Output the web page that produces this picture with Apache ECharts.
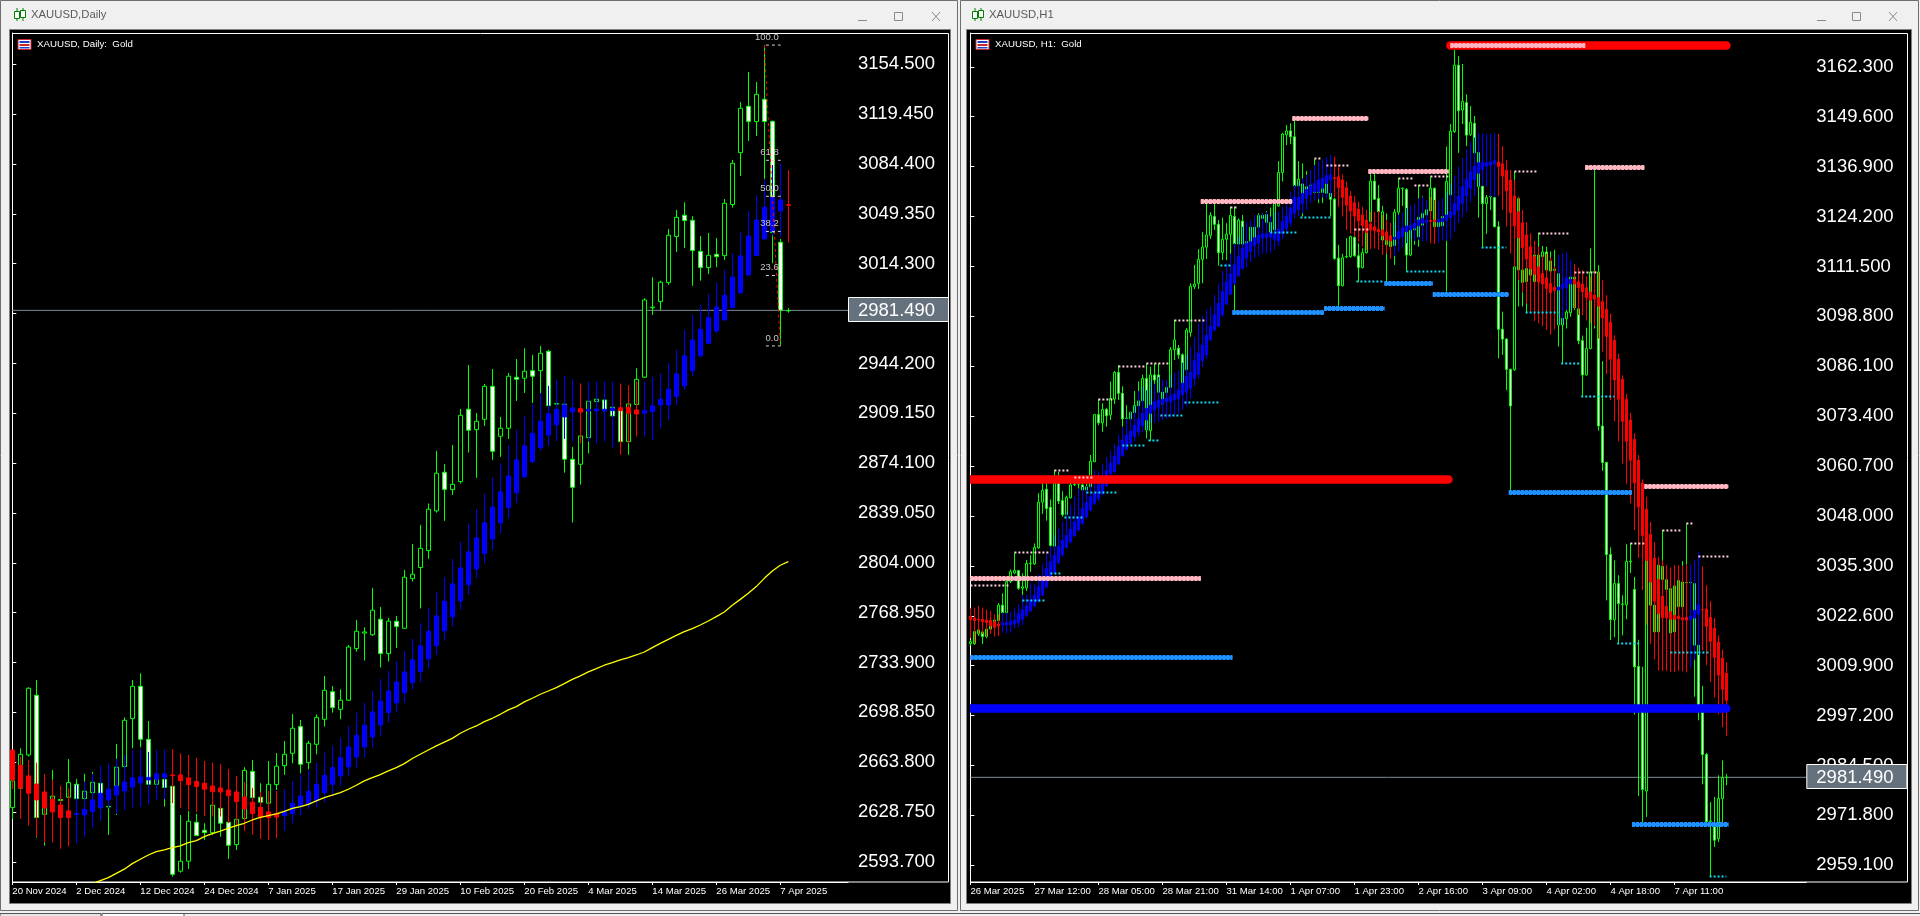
<!DOCTYPE html>
<html><head><meta charset="utf-8">
<style>html,body{margin:0;padding:0;background:#f0f0f0;overflow:hidden}#c{width:1920px;height:916px}</style>
<script src="https://cdn.jsdelivr.net/npm/echarts@6/dist/echarts.min.js"></script>
</head><body><div id="c"></div>
<script>
// ---------- Daily chart data: [open, high, low, close]
const dailyCandles=[[2631.9,2654,2623.7,2650.7],[2645.5,2673.6,2643,2669.4],[2668.9,2716.5,2667.8,2715.8],[2710.9,2721.6,2610.8,2624.9],[2627.2,2645,2605.2,2631.9],[2634,2658.4,2625,2640],[2637.6,2640,2620,2636.9],[2639.2,2666.1,2630,2649.5],[2648.3,2652.1,2625,2638.2],[2638.2,2655.6,2632.6,2643.4],
[2642.4,2657,2637.3,2649.7],[2649,2650.2,2631.4,2631.9],[2632.4,2635,2612.7,2632.8],[2647.1,2676.7,2626.7,2660.3],[2660.7,2695.4,2657.2,2693.3],[2694.5,2721.6,2673.6,2717.2],[2717.2,2726.3,2674.3,2679.9],[2679.9,2692.8,2647.8,2648.3],[2648.3,2652.5,2647.8,2651.8],[2651.8,2652.3,2632.6,2646],
[2646.9,2647.8,2583.4,2585],[2587.2,2626.7,2586.2,2594.2],[2594.2,2629.6,2588.8,2622.3],[2621.6,2627.5,2612.2,2612.2],[2616,2620.9,2609.2,2614.3],[2614.3,2635,2612.7,2633.6],[2631.4,2632.6,2611.5,2620.9],[2621.6,2623.2,2595.8,2605.4],[2605.9,2623.7,2602.1,2623.7],[2624.2,2660.3,2623.7,2658.1],
[2657.4,2665.4,2638.2,2638.9],[2639.2,2649,2635,2635.7],[2635,2664.7,2632.6,2648.3],[2648.1,2670.3,2644.3,2661],[2661.4,2678.8,2654.9,2669.4],[2670.1,2697.7,2663,2687.7],[2689,2693.5,2656,2662.4],[2663.5,2678.8,2658.8,2677.1],[2676.4,2697.5,2669.4,2695.2],[2694,2724.5,2688.9,2714.4],
[2713.4,2717.4,2698.7,2702.2],[2701,2715,2694,2707.4],[2707.4,2746.3,2707,2744.8],[2743.7,2763.9,2741.6,2755.9],[2754.6,2758.7,2735.3,2755.4],[2753.4,2786.4,2752.6,2770.7],[2764.4,2773,2730.4,2740.2],[2740.2,2765.3,2734.6,2763],[2762.9,2766.7,2744.2,2759.2],[2758,2799,2757.8,2793.9],
[2792.9,2817.3,2790.8,2796],[2800.7,2830.7,2771.9,2814.2],[2812.6,2845.7,2806.8,2841.7],[2840.5,2882.7,2839.3,2867],[2867.7,2873.5,2833.5,2855.5],[2855.5,2886.9,2851.7,2859.2],[2861.1,2912.2,2859.7,2907.7],[2912,2943.1,2881.5,2897.2],[2897.7,2909.4,2863.7,2903.5],[2904.9,2929.8,2900.2,2928.1],
[2928.1,2940.3,2876.4,2882.4],[2893,2906.6,2878.5,2898.6],[2898.6,2937.5,2891.1,2935.2],[2934.5,2947.3,2917.8,2933],[2933.8,2954.8,2923.4,2938.7],[2939.1,2950.2,2916.4,2935.2],[2939.1,2956.5,2923.2,2951.3],[2952.7,2953.7,2914.5,2914.5],[2915.6,2917.5,2913.8,2916.1],[2915.5,2916.2,2867.4,2876.8],
[2876.8,2885.5,2832.3,2857.1],[2873.3,2897,2859,2893.2],[2892,2917.6,2881,2917.6],[2917.4,2920,2906,2919],[2918.5,2919,2909,2911],[2913.4,2914,2904,2907.3],[2911.9,2912.5,2889,2889.2],[2889.2,2915.7,2880,2915.7],[2915.3,2940.8,2912.7,2933],[2934.5,2990,2934,2988.8],
[2983.3,3004.8,2978.3,2983.7],[2987.7,3002.4,2981.8,3001.3],[3001,3038.8,2999.4,3034.3],[3033.4,3052.1,3022.6,3046.9],[3048.4,3057.5,3025.4,3044.6],[3044.8,3047.7,2998.7,3023.5],[3023,3033.8,3002.4,3011.6],[3011.6,3035.9,3007,3020.2],[3020.9,3032.4,3011.8,3019.3],[3020,3059.8,3017,3056.8],
[3055.9,3087.3,3053.7,3084.9],[3092.4,3128,3076,3123.6],[3125,3149.1,3100.6,3114.2],[3114.2,3142.1,3104.1,3133.4],[3129.9,3168,3073.7,3114.2],[3114.4,3114.8,3014.6,3036.2],[3029.4,3031.7,2956.5,2981.6],[2981.4,2983,2979.9,2981.2]];
// Heiken Ashi overlay: [open, high, low, close]
const dailyHeikin=[[2672.4,2672.4,2645,2651.4],[2661.7,2667.8,2623.9,2645.7],[2654.2,2665.4,2619.2,2642],[2648.5,2663.5,2611.5,2637.3],[2642.9,2655.6,2607.3,2631.7],[2637.8,2651.4,2607.3,2628.9],[2633.8,2647.4,2602.9,2624.9],[2629.6,2645.5,2604.5,2624.9],[2627.1,2647.8,2606.6,2627.8],[2626.7,2650.2,2611.5,2630.7],
[2629.1,2655.6,2617.8,2637.3],[2631.9,2661.2,2622.5,2642],[2637.3,2663,2631.4,2644.8],[2640.8,2666.1,2627.5,2647.1],[2643.6,2668.9,2630.3,2649.9],[2646.4,2672.4,2631.9,2652.8],[2649.2,2672.9,2632.4,2653.5],[2651.4,2671,2634.5,2653.2],[2651.8,2672.4,2637.3,2655.6],[2653.2,2672.4,2637.8,2655.6],
[2654.9,2673.1,2635,2654.4],[2654.9,2670.1,2631.7,2650.9],[2652.8,2668.9,2630.3,2648.1],[2650.4,2667,2628.6,2646.7],[2649,2664.7,2626,2644.8],[2647.1,2663.5,2625.6,2643.1],[2645.7,2662.6,2625.6,2642.9],[2644.3,2659.1,2620.9,2640.3],[2642.9,2654.2,2617.8,2636.1],[2639.4,2649.9,2615.5,2631],
[2635.7,2645.9,2612.7,2627.7],[2632.1,2642.7,2609.9,2625.3],[2628.9,2643.6,2609.2,2624.9],[2627.7,2643.6,2610.3,2625.3],[2626.3,2644.8,2615.5,2629.1],[2627.7,2650.6,2620.9,2634.9],[2632.6,2654.9,2626.3,2640.1],[2634.5,2658.4,2630.7,2643.4],[2636.6,2663.5,2631.9,2648.3],[2642.5,2670.6,2635.4,2654.6],
[2648.3,2675.3,2640.1,2660],[2654.2,2681.1,2647.1,2667],[2660.5,2689.3,2654.2,2674.6],[2667.5,2698.7,2660,2682.8],[2674.6,2705.7,2667,2689.8],[2681.6,2713.9,2674.1,2699.2],[2690,2722.1,2682.3,2706.7],[2698.7,2728,2691.7,2713.9],[2705.5,2734.8,2698.7,2720.2],[2712.7,2741.9,2705.7,2727.3],
[2719.8,2750.5,2715,2735.8],[2727.6,2761.5,2720,2745.6],[2736.5,2772.3,2729.9,2755.9],[2745.8,2783.6,2739.3,2766.7],[2756.2,2793.9,2749.8,2777],[2766,2806.8,2759.2,2789.2],[2777.2,2818.7,2770.9,2800.4],[2788.5,2831.4,2781.5,2811.7],[2799.7,2841.9,2793.2,2821.5],[2810.5,2852.7,2803.7,2832.1],
[2820.8,2864.2,2813.1,2843.1],[2832.1,2874,2824.8,2853.9],[2842.8,2886.9,2835.3,2865.1],[2853.2,2897.4,2845.9,2876.4],[2864.4,2907.3,2863.9,2886.2],[2875.2,2915.7,2874,2895.1],[2885,2923.2,2882.7,2903.5],[2893.9,2928.4,2886.2,2908.7],[2901,2932.6,2889.7,2912],[2906.6,2935.4,2891.1,2915],
[2910.1,2933,2889.2,2912.9],[2912.4,2930.2,2888,2910],[2910.8,2931.4,2889.3,2911.9],[2910.8,2931.4,2888,2912.2],[2910.8,2931.4,2889.3,2912],[2911,2931.4,2885,2912.8],[2913,2930,2879.9,2911],[2913.4,2929,2888,2909.2],[2911.5,2931.4,2892.8,2908.7],[2909.2,2931.4,2892.8,2911],
[2910.3,2934.9,2890.4,2914.3],[2915,2937.3,2898.6,2919],[2915,2944.3,2904.5,2926],[2920.9,2953.7,2915,2936.8],[2928.4,2967.7,2925.6,2949.5],[2939.2,2978.3,2935,2960.7],[2949.5,2985.3,2948.5,2968.2],[2958.4,2993,2957.7,2976.4],[2967,3000.8,2965.4,2983.9],[2974.8,3009.9,2974.1,2992.1],
[2983.5,3021.6,2983,3004.8],[2993.8,3036.6,2993.5,3019.8],[3006.4,3051.2,3006.4,3033.8],[3020,3062.4,3019.8,3045.1],[3031.7,3073.7,3031.5,3054],[3036.9,3083.7,3034,3061],[3051.4,3084.9,3033.4,3059.1],[3055.8,3080.2,3029.1,3055.4]];
// Yellow moving average, one value per bar from bar index 10 on
const dailyMaFirstBar=10;
const dailyMA=[2578.5,2580.6,2582.7,2585.7,2588.6,2592.5,2595.6,2598.6,2601,2602.2,2603.8,2605,2607.3,2608.7,2611.5,2613.6,2615.3,2617.4,2619.2,2620.9,2623.2,2625.1,2626.3,2627.5,2629.3,2631.4,2632.6,2634.2,2636.6,2638.9,2640.6,2642.5,2644.8,2647.6,2650.7,2653,2655.1,2657.7,2660,2662.8,2666.4,2669.4,2672.4,2675.3,2678,2680.6,2684.2,2687,2689.3,2692.4,2694.7,2697.5,2700.6,2702.9,2706.2,2708.8,2711.6,2713.9,2716.3,2719.1,2722.1,2724.5,2727.3,2729.6,2732,2733.8,2735.7,2737.4,2739.2,2741.3,2744.4,2747.4,2750.2,2753,2755.6,2757.7,2760.3,2763.1,2766.2,2769.4,2774.1,2778.3,2782.6,2787.3,2793.1,2798.3,2802.3,2804.8];
const dailyTickBars=[0,8,16,24,32,40,48,56,64,72,80,88,96];
const dailyTickLabels=['20 Nov 2024','2 Dec 2024','12 Dec 2024','24 Dec 2024','7 Jan 2025','17 Jan 2025','29 Jan 2025','10 Feb 2025','20 Feb 2025','4 Mar 2025','14 Mar 2025','26 Mar 2025','7 Apr 2025'];
const dailyPriceTicks=[3154.5,3119.45,3084.4,3049.35,3014.3,2979.25,2944.2,2909.15,2874.1,2839.05,2804,2768.95,2733.9,2698.85,2663.8,2628.75,2593.7];
const fibLevels=[['100.0',3168],['61.8',3087],['50.0',3061.7],['38.2',3037],['23.6',3006],['0.0',2956.5]];
const fibDiagonal=[[94,3168],[96,2956.5]];
const lastPrice=2981.49;

// ---------- H1 chart data
const h1Candles=[[3015.5,3016.5,3015,3016],[3015.5,3019,3015.2,3018.6],[3018,3019.2,3017.5,3019],[3018.5,3019.4,3015.4,3017.3],[3017.3,3021.5,3016.9,3019.2],[3019.2,3021.5,3019.2,3020.2],[3019.8,3022.4,3019.7,3021.5],[3021.4,3025.8,3021.1,3025.3],[3025.3,3028.3,3023.2,3023.4],[3023.4,3031.5,3023.2,3031.3],
[3031.3,3034.4,3030.9,3033.8],[3033.5,3038.6,3033.2,3034.1],[3034.1,3034.2,3029.2,3029.6],[3029.6,3033.4,3026.6,3030],[3029.7,3036.8,3028.9,3035.9],[3035.9,3038,3033.8,3036],[3035.8,3041,3035.5,3040],[3039.9,3053.8,3039.6,3051.5],[3051.5,3058,3048.5,3054.5],[3054.8,3058,3046.8,3049.9],
[3050.2,3052.2,3040.2,3040.5],[3040.3,3059.7,3040.2,3056.3],[3056.3,3059.2,3051,3051.8],[3051.9,3054.3,3047.8,3048.3],[3048.3,3053.2,3048,3052.7],[3052.6,3058,3052.5,3055.9],[3056,3058,3055.6,3056.1],[3056.1,3058,3054.8,3056.2],[3055.9,3056.3,3054.2,3054.6],[3054.6,3056.3,3054,3055.4],
[3055.4,3063.5,3055,3061.9],[3061.8,3073.9,3061.7,3073.8],[3073.8,3077.8,3071.1,3071.7],[3071.7,3076.7,3069.4,3075.1],[3075.1,3075.5,3070.7,3073.5],[3073.7,3082.2,3072.4,3077.9],[3077.7,3084.9,3076.5,3084.5],[3084.5,3086.4,3077.5,3079.2],[3079.2,3081,3070.7,3072.7],[3072.8,3076.2,3072,3072.9],
[3072.7,3074.5,3069.9,3074.4],[3074.3,3079.8,3070.7,3076.1],[3076,3082.2,3075.6,3077.3],[3077.3,3084,3072.4,3083],[3083,3086.8,3067.7,3069.9],[3069.7,3086,3067.1,3083.9],[3083.9,3086.8,3081.3,3082.6],[3083.9,3086.8,3072.4,3079.5],[3079.5,3080.9,3075,3076.5],[3079.4,3082.6,3075.8,3080.7],
[3080.7,3091,3080,3090.3],[3090.3,3097.9,3087.7,3092.8],[3090.7,3091.5,3088,3089],[3089,3089.4,3080.1,3081],[3085.2,3095.8,3080.1,3095.3],[3094.7,3107.2,3093.6,3106.4],[3106.4,3111.9,3105.7,3107],[3107.2,3115.9,3105.8,3113.3],[3113.3,3120.3,3107.2,3116.4],[3116.4,3127.6,3113.4,3119.5],
[3119.4,3125.3,3118.5,3124.5],[3124.2,3127.6,3120.8,3122.2],[3122.2,3123.3,3111.7,3115],[3115,3123.9,3113.1,3118.4],[3118.4,3122.5,3113.1,3119.7],[3119.7,3126.7,3111.9,3124.5],[3124.2,3126.7,3100.4,3117.2],[3117.2,3123.7,3113.1,3123.3],[3123,3124.6,3116.5,3117.2],[3117.2,3120.8,3117,3117.8],
[3117.5,3122,3116,3121.5],[3118.7,3122,3118.2,3121.5],[3121.5,3125,3118.7,3124.5],[3124.5,3125,3123.3,3123.7],[3122.7,3125.6,3122.5,3124.7],[3122.7,3126.5,3119.8,3120.2],[3120.8,3128,3120.1,3127.6],[3126.9,3138.3,3126.7,3135.4],[3135.4,3145.5,3133.1,3145.2],[3145,3147.5,3142.4,3146],
[3146,3147.9,3142.6,3144.5],[3144.5,3148.6,3129.7,3132],[3132,3138.3,3128.8,3133.7],[3132.5,3137.7,3124.2,3130],[3130,3135.8,3129.2,3131.8],[3130.1,3134.8,3129.2,3132.2],[3130.3,3138.8,3130.1,3132.2],[3130.3,3135.2,3127.6,3131.4],[3130.3,3132.2,3127.6,3132.2],[3130.1,3135.2,3129.7,3133.5],
[3130.1,3133.5,3124.2,3128.6],[3128.6,3129,3113.2,3113.5],[3113.6,3117,3101.3,3106.6],[3106.6,3114.7,3106.4,3113.7],[3113.9,3118.7,3113.6,3114],[3114,3119.3,3113.7,3119.1],[3118.9,3121.6,3114,3114.2],[3114.2,3117.4,3107.6,3111.2],[3111.2,3116.1,3111,3115],[3115,3125.9,3114.8,3120.6],
[3122.9,3135.2,3121.2,3133.2],[3133.2,3135.2,3128.4,3128.6],[3128.8,3132.2,3125,3125.4],[3118.2,3126.9,3114.8,3125.4],[3117,3125,3107.2,3118.2],[3116.5,3120,3114,3118.2],[3116.8,3126.1,3111.9,3125.3],[3125.3,3133.9,3124.6,3131.4],[3131.3,3131.6,3126.9,3131.4],[3131.1,3131.4,3110.2,3114.4],
[3114.4,3126.7,3114.1,3120.8],[3120.8,3123,3117,3121.5],[3119,3132.2,3116.5,3124],[3122,3129.4,3122,3125],[3124.6,3128,3123,3125.9],[3125.6,3134.3,3125.4,3131.4],[3131.4,3131.5,3121.5,3121.6],[3121.6,3123.5,3121.4,3123.3],[3121.8,3124.4,3121.6,3124.2],[3123.3,3142,3105.1,3133.1],
[3129.7,3147.7,3129.6,3145.9],[3145.8,3166.6,3145.5,3162.7],[3162.7,3165,3140.4,3151.1],[3151.3,3163,3147.7,3153.5],[3153.2,3155.3,3142.1,3144.9],[3145.1,3152.3,3144.7,3148.2],[3147.9,3149.8,3140.3,3140.4],[3131.8,3144.3,3123.9,3140.5],[3131.9,3137.9,3116.5,3127.5],[3127.5,3129.7,3119.8,3129],
[3129.2,3131.8,3125.9,3129.3],[3129,3129.7,3121.5,3121.6],[3121.6,3123,3088.1,3095.5],[3095.5,3100,3089,3093],[3093,3093.2,3080,3085.3],[3085.3,3085.5,3054.3,3076],[3085.2,3135.6,3084.9,3111.4],[3110.6,3129.2,3101.3,3128.8],[3107.4,3118,3101.3,3110.6],[3107.6,3114.8,3099.6,3111],
[3110.8,3112,3106,3109.3],[3107.6,3116,3106,3114.4],[3114.4,3120,3106,3107.6],[3114,3116.7,3113,3115.2],[3115.2,3116.5,3110.2,3110.6],[3110.3,3115.3,3110.1,3112.9],[3110.5,3115.7,3109.5,3110.8],[3096.6,3111,3091.1,3109.7],[3096.6,3098.6,3086.8,3098.3],[3098.2,3100.4,3095.7,3099.9],
[3099.7,3109.3,3098.7,3108.8],[3108.8,3110.1,3100.4,3101],[3100.7,3101.2,3091.7,3092.6],[3092.6,3093.9,3078.5,3083.9],[3083.9,3095.9,3083.7,3090.6],[3090.6,3116.1,3090.4,3110.1],[3109.9,3136,3095.7,3110.2],[3110.1,3111.8,3069.7,3070.9],[3070.9,3087.4,3059.5,3061.6],[3061.6,3061.8,3026.5,3038.2],
[3038.2,3040,3016.4,3021.6],[3021.6,3036.7,3017.2,3030.8],[3030.8,3032.9,3015.7,3025.7],[3025.5,3027.8,3017.6,3025.6],[3025.4,3040.8,3021.7,3036.4],[3036.3,3041.1,3033.5,3036.5],[3029.3,3032.5,2997.5,3009.6],[3009.7,3016.5,2976.7,2998.1],[2998.1,3009.6,2969.7,2978.4],[2978,3037,2971.4,3036.7],
[3031.2,3035.5,3023,3025.3],[3025.3,3026,3018,3018.5],[3018.5,3036,3018,3035.5],[3031.8,3044.4,3030,3035.2],[3029.3,3033,3029,3031.8],[3018.2,3030,3018,3029.5],[3030.2,3035.5,3018,3018.5],[3024.9,3033,3024,3031.6],[3031.2,3036.5,3024,3024.9],[3031,3046,3030,3031.1],
[3031.1,3031.5,3030.5,3031],[3015.1,3031,3002,3030.8],[3015.1,3015.4,2996,2998.7],[2998.1,3004.7,2979.7,2987.3],[2987.3,2987.7,2969.7,2970.2],[2970.2,2975.2,2956.3,2970.4],[2968.9,2976.5,2963.8,2965.5],[2965.9,2982,2965,2976.1],[2976.1,2985.8,2968.9,2981.4],[2981.5,2982.3,2979.5,2981.49]];
const h1Heikin=[[3022.4,3024.5,3016.9,3021.7],[3022,3024.7,3015.6,3021.4],[3021.7,3025.1,3018.1,3021.5],[3021.7,3024.7,3018,3021.1],[3021.5,3024.2,3017.3,3020.9],[3021.5,3023.8,3018,3020],[3021.1,3023,3017.3,3019.7],[3020.5,3023,3017.5,3020],[3020.3,3023.4,3018.3,3020.7],[3020.3,3023.4,3018.1,3020.8],
[3020.3,3023.6,3018.3,3021.1],[3020.5,3024.5,3019.4,3021.5],[3020.8,3025.6,3019.7,3023.2],[3021.7,3027.9,3020.3,3024.1],[3022.7,3027.9,3022.2,3025.1],[3023.8,3030.9,3023.6,3026.6],[3025.1,3030.7,3024.7,3027.9],[3026.2,3033.1,3026,3030],[3027.9,3035.9,3027.5,3032.1],[3029.9,3038.5,3029.6,3034.6],
[3032.1,3040.2,3031.7,3036.4],[3033.6,3043.1,3033.4,3038],[3036.1,3044.8,3035.7,3040.3],[3038.1,3046.5,3037.6,3041.9],[3039.9,3049.1,3039.8,3043.1],[3041.4,3050.8,3041,3044.7],[3042.9,3052.9,3042.7,3046.5],[3044.4,3055,3044,3047.8],[3046.1,3055.4,3045.7,3049.9],[3047.8,3055.6,3047.4,3051.4],
[3049.5,3057.1,3049.1,3052.9],[3051.2,3059.7,3050.8,3053.7],[3052.5,3059,3051.6,3055.9],[3053.6,3061.2,3053.3,3056.3],[3055.6,3063,3055.4,3059.5],[3058.8,3064.6,3058.4,3061.4],[3059.3,3066.3,3058.8,3063.2],[3061.2,3068.6,3061,3065.6],[3063.3,3070.7,3063.1,3067.3],[3064.9,3072.8,3064.8,3068.6],
[3066.5,3074.5,3066,3069.6],[3068.2,3076,3066.9,3071.1],[3069.4,3079.8,3068.3,3072.7],[3070.9,3080.9,3069.3,3074.1],[3072.4,3080,3069.9,3075.4],[3074.1,3082.6,3071.6,3076.2],[3074.9,3081.6,3071.7,3077.1],[3075.6,3083.4,3072,3077.5],[3076.5,3082.6,3072.4,3077.7],[3077,3082.6,3072.8,3078],
[3077,3084,3073,3078.5],[3077.5,3084.5,3073.5,3079],[3077.8,3085,3074,3080],[3078.8,3087,3075,3081.8],[3079.5,3089,3076,3083.5],[3080.5,3091,3078,3084.5],[3083,3093.5,3081,3087.5],[3084,3097,3083,3089.5],[3087.5,3099,3086,3091.5],[3089,3100.5,3088,3094],
[3092.8,3101.3,3092.6,3096.3],[3095.3,3104.2,3094.9,3099.2],[3096.3,3107.2,3096.2,3102.1],[3099.2,3110.3,3098.7,3105.1],[3101.9,3112.3,3101.7,3107.6],[3104.4,3114.7,3104.2,3109.6],[3107.2,3117.4,3106.8,3111.9],[3109.1,3119.1,3108.9,3114],[3111,3121.6,3110.6,3116.1],[3113.6,3122.9,3111.3,3117.4],
[3115.3,3123.3,3112.7,3117.8],[3116.7,3124.6,3113.6,3118.8],[3117.4,3124.6,3114,3119.5],[3118.7,3125,3114.8,3119.8],[3118.9,3125.3,3114.8,3119.8],[3118.9,3124.2,3115,3120.1],[3118.4,3125.4,3115.7,3119.9],[3118,3125.4,3116.7,3121],[3119.8,3126.7,3118.4,3122.9],[3121.2,3127.3,3119.8,3124.3],
[3122.6,3130.5,3121.6,3126.3],[3125,3132.2,3123.7,3129.1],[3125.9,3133,3124.3,3129.1],[3127.4,3133.9,3125,3130.1],[3128.8,3134.8,3125.9,3131.1],[3129.7,3136,3127.6,3132],[3130.5,3137.3,3128.2,3132.6],[3130.5,3138.2,3128.6,3133.5],[3131.4,3138.8,3129.1,3133.9],[3132.6,3139.3,3128.8,3134.6],
[3133.5,3139.9,3129.1,3134.8],[3134.1,3139.4,3129.1,3133.9],[3134.3,3137.3,3126.7,3131.6],[3133.5,3134.9,3124.2,3129.1],[3131.5,3133.1,3120.8,3127.1],[3129.4,3130.7,3119.8,3125.6],[3127.7,3129.4,3119.1,3124.3],[3126.1,3128,3117.8,3123.1],[3124.6,3126.7,3116.5,3121.9],[3123.3,3125.9,3115.7,3120.1],
[3122.3,3125.4,3115.9,3120.8],[3121.6,3125.4,3116.1,3120.6],[3121,3125.6,3115.7,3120.3],[3120.8,3124.6,3114.4,3119.3],[3120.3,3123.3,3114.8,3118.2],[3119.3,3122.6,3113.4,3118],[3118.4,3122.9,3114.1,3118.9],[3118.5,3124.6,3115.2,3120.3],[3119.1,3125.4,3116.5,3121.3],[3120.3,3126.4,3117.4,3121.8],
[3120.8,3126.7,3118.5,3121.9],[3121.2,3127.5,3118,3122.5],[3121.8,3128.8,3118.3,3123.3],[3122.5,3129.2,3117.8,3123.7],[3122.7,3128.4,3118,3123.3],[3123.2,3129.2,3117.4,3123],[3123.3,3128.4,3117.2,3122.9],[3122.8,3128.1,3117.4,3123.3],[3122.9,3128.8,3118.2,3123.7],[3123.3,3130.5,3118,3124.6],
[3123.9,3132.6,3118.5,3125.4],[3124.6,3134.5,3120.3,3127.5],[3125.8,3136.9,3122.5,3129.4],[3127.5,3139.2,3123.9,3131.8],[3129.4,3141.4,3125.4,3133.7],[3131.4,3143.2,3127.9,3135.6],[3133.5,3144.3,3129.4,3137],[3135.2,3145.4,3131.8,3137.9],[3136.2,3145.4,3132,3138.1],[3137,3145.2,3131.8,3137.9],
[3137.2,3145.2,3129.2,3138.1],[3137.6,3145.4,3129.2,3138.4],[3138.1,3145.2,3129.5,3136.9],[3137.6,3142.1,3125.9,3134.5],[3136,3138.6,3121.6,3130.7],[3133.5,3136,3114.8,3125.2],[3129.4,3133.5,3111.4,3121.8],[3125.4,3129.2,3108,3118.8],[3122.6,3125.9,3104.9,3116.3],[3119.5,3122.8,3102.1,3113.4],
[3116.5,3119.9,3100,3111],[3114,3118,3097.6,3109.5],[3111.4,3116.5,3097,3107.6],[3109.7,3114.4,3096.3,3107],[3108.6,3114.8,3095.3,3105.9],[3107.2,3113.8,3094.1,3104.8],[3106.2,3111.4,3095.5,3105.3],[3105.5,3114.4,3096.6,3106.2],[3105.8,3114.8,3097,3107],[3106.1,3115.2,3100.4,3108.6],
[3107.1,3113.2,3100.5,3108.2],[3108.2,3112.1,3100.8,3107],[3107.6,3111.2,3099.1,3106.1],[3107,3110.5,3099.1,3105],[3106.1,3109,3097.8,3103.5],[3105,3109,3097,3102.9],[3104.2,3110.5,3096.3,3103.2],[3103.6,3110.1,3093.1,3101.4],[3102.6,3108,3089.8,3098.4],[3100.6,3104.2,3084.1,3093.7],
[3097.3,3099.5,3077.5,3087.9],[3092.7,3094,3072.1,3082.6],[3087.9,3089.3,3067,3077.7],[3082.8,3083.8,3061.3,3072.1],[3077.7,3079,3056.1,3067],[3072.4,3074.2,3051.2,3062.2],[3067.5,3069,3044.4,3056.4],[3062.2,3063.5,3037.3,3050.3],[3056.4,3057.3,3029.1,3043],[3049.7,3052.9,3020.4,3036.7],
[3043.3,3046.5,3015.4,3031.2],[3037.3,3041.4,3011.5,3026.3],[3031.8,3037.6,3008.7,3023.2],[3027.6,3036.6,3008.5,3022.1],[3025,3035.5,3008.6,3022.1],[3023.6,3034.9,3008.3,3021.7],[3022.7,3035.5,3008.3,3021.7],[3022.5,3035.5,3008.6,3021.9],[3022.1,3035.3,3008.5,3021.6],[3022.2,3035.7,3008.2,3021.5],
[3021.6,3035.7,3009.4,3022.5],[3022,3036.9,3011.4,3024],[3023,3038.8,3012.6,3025.4],[3024.2,3035.2,3013.8,3024.1],[3024.3,3030.4,3010,3019.9],[3022.2,3026.3,3005.8,3016.1],[3019.4,3022,3001.8,3012],[3015.9,3017.6,2997.5,3007.5],[3011.8,3014,2994.3,3003.9],[3008,3010.8,2992,3001.1]];
const h1TickBars=[0,16,32,48,64,80,96,112,128,144,160,176];
const h1TickLabels=['26 Mar 2025','27 Mar 12:00','28 Mar 05:00','28 Mar 21:00','31 Mar 14:00','1 Apr 07:00','1 Apr 23:00','2 Apr 16:00','3 Apr 09:00','4 Apr 02:00','4 Apr 18:00','7 Apr 11:00'];
const h1PriceTicks=[3162.3,3149.6,3136.9,3124.2,3111.5,3098.8,3086.1,3073.4,3060.7,3048,3035.3,3022.6,3009.9,2997.2,2984.5,2971.8,2959.1];
// Level segments: [first bar, last bar, price]
const boldResistance=[[0,119.5,3057.3],[120,189,3167.8]];
const boldSupport=[[0,189,2999.2]];
const midResistance=[[0,57.6,3032.1],[57.6,80.5,3128.1],[80.5,99.5,3149.2],[99.5,119.6,3135.7],[120,153.7,3167.8],[153.7,168.5,3136.7],[168.5,189.5,3055.5]];
const midSupport=[[0,65.5,3012],[65.5,88.4,3099.8],[88.4,103.5,3100.9],[103.5,115.6,3107.2],[115.6,134.6,3104.4],[134.6,165.4,3054],[165.4,189.5,2969.5]];
const minorResistance=[[0,10,3030.4],[11,20,3038.8],[21,25,3059.6],[26,31,3057.9],[32,36,3077.8],[37,44,3086.2],[44,50,3087],[51,59,3097.9],[65,67,3126.7],[86,88,3139.1],[89,95,3137.3],[96,100,3120.9],[107,111,3134],[111,115,3132.2],[115,120,3134.6],[136,141.5,3135.8],[142,150,3120],[151,157,3110.1],[165,169,3041],[173,178,3044.4],[179,181,3046.2],[182,190,3037.8]];
const minorSupport=[[13,19,3026.6],[20,23,3033.4],[23.5,28.5,3047.7],[29,37,3054],[38,44,3066.1],[44.5,47.5,3067.4],[47.5,53,3073.7],[53.5,62.5,3076.9],[62.5,65,3111.9],[75,82,3120.3],[82.5,90,3124.1],[96.5,103,3107.8],[109,118.7,3110.4],[127.8,134,3116.5],[138.8,147,3099.9],[147.7,152.4,3087],[152.7,161,3078.6],[161.7,167.4,3015.7],[175,184.5,3013.3],[184.8,189,2956.4]];

// ---------- Helpers
const GREEN='#00ff00', WHITE='#ffffff', GRID_LINE='#7d8b99';
const toCandle=(rows)=>rows.map((r,i)=>[i,r[0],r[3],r[2],r[1]]);
function candleSeries(rows,idx,w,up,down,upB,downB,z){
  return {type:'candlestick',xAxisIndex:idx,yAxisIndex:idx,barWidth:w,z:z,clip:true,silent:true,
    encode:{x:0,y:[1,2,3,4]},data:toCandle(rows),large:false,progressive:0,
    itemStyle:{color:up,color0:down,borderColor:upB,borderColor0:downB,borderWidth:1}};
}
function segments(segs,idx,style,z){
  return {type:'custom',xAxisIndex:idx,yAxisIndex:idx,z:z,clip:true,silent:true,data:segs,encode:{x:[0,1],y:2},
    renderItem:(p,api)=>{const a=api.coord([api.value(0),api.value(2)]),b=api.coord([api.value(1),api.value(2)]);
      return {type:'line',shape:{x1:a[0],y1:Math.round(a[1])+.5,x2:b[0],y2:Math.round(b[1])+.5},style:Object.assign({fill:null},style)};}};
}
function priceLine(idx,xMax){
  return {type:'line',xAxisIndex:idx,yAxisIndex:idx,z:1,silent:true,showSymbol:false,data:[[0,lastPrice],[xMax,lastPrice]],lineStyle:{color:GRID_LINE,width:1}};
}
function priceTag(idx,xMax,w){
  return {type:'custom',xAxisIndex:idx,yAxisIndex:idx,z:30,clip:false,silent:true,data:[[xMax,lastPrice]],
    renderItem:(p,api)=>{const c=api.coord([xMax,lastPrice]);
      return {type:'group',children:[
        {type:'rect',shape:{x:c[0]+.5,y:Math.round(c[1])-12.5,width:w,height:24},style:{fill:'#65717d',stroke:'#ffffff',lineWidth:1}},
        {type:'text',style:{x:c[0]+10,y:c[1]+1,text:lastPrice.toFixed(3),fill:'#fff',font:'18.5px "Liberation Sans"',verticalAlign:'middle',align:'left'}}]};}};
}
function xAx(idx,max,bars,labels){
  return {type:'value',gridIndex:idx,min:0,max:max,splitLine:{show:false},
    axisLine:{show:true,onZero:false,lineStyle:{color:WHITE,width:1}},
    axisTick:{show:true,length:3,customValues:bars,lineStyle:{color:WHITE}},
    axisLabel:{customValues:bars,color:WHITE,fontFamily:'Liberation Sans',fontSize:9.6,margin:4,align:'left',hideOverlap:false,
      formatter:v=>labels[bars.indexOf(v)]||''}};
}
function yAx(idx,min,max,ticks){
  return {type:'value',gridIndex:idx,position:'right',min:min,max:max,scale:true,splitLine:{show:false},
    axisLine:{show:true,lineStyle:{color:WHITE,width:1}},
    axisTick:{show:true,length:4,customValues:ticks,lineStyle:{color:WHITE}},
    axisLabel:{customValues:ticks,color:WHITE,fontFamily:'Liberation Sans',fontSize:18.5,margin:10,padding:[2,0,0,0],hideOverlap:false,formatter:v=>v.toFixed(3)}};
}
function chrome(x,w,inX,inW,plotL,plotR,title,legend,btnX){
  const z=-10, ink='#8a8a8a', txt='#5a5a5a';
  return [
   {type:'rect',z:z,shape:{x:x+.5,y:.5,width:w,height:910},style:{fill:'#f0f0f0',stroke:'#6e6e6e',lineWidth:1}},
   {type:'rect',z:z,shape:{x:inX+.5,y:29.5,width:inW,height:874},style:{fill:'#000',stroke:'#808080',lineWidth:1}},
   {type:'rect',z:z,shape:{x:plotL,y:33.5,width:plotR-plotL,height:848.5},style:{fill:'#000',stroke:'#fff',lineWidth:1}},
   {type:'line',z:z,shape:{x1:btnX.icon+3,y1:8,x2:btnX.icon+3,y2:21},style:{stroke:'#008000'}},
   {type:'line',z:z,shape:{x1:btnX.icon+9,y1:8,x2:btnX.icon+9,y2:21},style:{stroke:'#008000'}},
   {type:'rect',z:z,shape:{x:btnX.icon+.5,y:11.5,width:5,height:7},style:{fill:'#fff',stroke:'#008000'}},
   {type:'rect',z:z,shape:{x:btnX.icon+6.5,y:10.5,width:5,height:7},style:{fill:'#fff',stroke:'#008000'}},
   {type:'text',z:z,style:{x:btnX.icon+17,y:15,text:title,fill:txt,font:'11.3px "Liberation Sans"',verticalAlign:'middle'}},
   {type:'line',z:z,shape:{x1:btnX.min,y1:20.5,x2:btnX.min+9,y2:20.5},style:{stroke:ink}},
   {type:'rect',z:z,shape:{x:btnX.max+.5,y:12.5,width:8,height:8},style:{fill:null,stroke:ink}},
   {type:'line',z:z,shape:{x1:btnX.close,y1:12,x2:btnX.close+8,y2:21},style:{stroke:ink}},
   {type:'line',z:z,shape:{x1:btnX.close,y1:21,x2:btnX.close+8,y2:12},style:{stroke:ink}},
   {type:'rect',z:z,shape:{x:btnX.flag+.5,y:39.5,width:13,height:10},style:{fill:'#fff',stroke:'#c8282d'}},
   {type:'rect',z:z,shape:{x:btnX.flag+2,y:41,width:10,height:2},style:{fill:'#2040c0'}},
   {type:'rect',z:z,shape:{x:btnX.flag+2,y:44,width:10,height:2},style:{fill:'#c8282d'}},
   {type:'rect',z:z,shape:{x:btnX.flag+2,y:47,width:10,height:1.5},style:{fill:'#2040c0'}},
   {type:'text',z:z,style:{x:btnX.flag+19.5,y:44.5,text:legend,fill:'#fff',font:'9.7px "Liberation Sans"',verticalAlign:'middle'}}
  ];
}

const fibSeries={type:'custom',xAxisIndex:0,yAxisIndex:0,z:25,clip:false,silent:true,data:fibLevels.map(f=>[f[1]]),
  renderItem:(p,api)=>{const price=fibLevels[p.dataIndex][1],name=fibLevels[p.dataIndex][0];
    const a=api.coord([94.2,price]),b=api.coord([96.05,price]);
    return {type:'group',children:[
      {type:'line',shape:{x1:a[0],y1:a[1],x2:b[0],y2:b[1]},style:{stroke:'#d0d0d0',lineWidth:1,lineDash:[3,3]}},
      {type:'text',style:{x:b[0]-2,y:a[1]-3,text:name,fill:'#c8c8c8',font:'9.5px "Liberation Sans"',align:'right',verticalAlign:'bottom'}}]};}};

const X0=(848-12.3)/8, X1=(1806.3-970.4)/4;
const dMin=2579.6,dMax=3176.5,hMin=2954.85,hMax=3170.9;

const option={animation:false,backgroundColor:'#f0f0f0',
 graphic:{elements:[
   ...chrome(0,957,9,941,12.5,948.5,'XAUUSD,Daily','XAUUSD, Daily:  Gold',{icon:14,min:858,max:894,close:932,flag:17.5}),
   ...chrome(960,958,966,945,970.5,1907.5,'XAUUSD,H1','XAUUSD, H1:  Gold',{icon:972,min:1817,max:1852,close:1889,flag:975.5}),
   {type:'rect',z:-10,shape:{x:0,y:913.5,width:101,height:4},style:{fill:'#e4e4e4',stroke:'#555'}},
   {type:'rect',z:-10,shape:{x:102,y:913.5,width:82,height:4},style:{fill:'#fff',stroke:'#555'}},
   {type:'line',z:-10,shape:{x1:184,y1:913.5,x2:1920,y2:913.5},style:{stroke:'#555'}}
 ]},
 grid:[{left:12.3,width:835.7,top:33,height:849},{left:970.4,width:835.9,top:33,height:849}],
 xAxis:[xAx(0,X0,dailyTickBars,dailyTickLabels),xAx(1,X1,h1TickBars,h1TickLabels)],
 yAxis:[yAx(0,dMin,dMax,dailyPriceTicks),yAx(1,hMin,hMax,h1PriceTicks)],
 series:[
   priceLine(0,X0),priceLine(1,X1),
   candleSeries(dailyCandles,0,5,'#000000','#ffffff',GREEN,GREEN,3),
   candleSeries(dailyHeikin,0,5,'#0000ff','#ff0000','#0000ff','#ff0000',4),
   {type:'line',xAxisIndex:0,yAxisIndex:0,z:5,silent:true,showSymbol:false,clip:true,lineStyle:{color:'#ffff00',width:1.3},
     data:dailyMA.map((v,i)=>[i+dailyMaFirstBar,v])},
   {type:'line',xAxisIndex:0,yAxisIndex:0,z:6,silent:true,showSymbol:false,lineStyle:{color:'#ff0000',width:1,type:[3,3]},data:fibDiagonal},
   fibSeries,
   candleSeries(h1Candles,1,3,'#000000','#ffffff',GREEN,GREEN,3),
   candleSeries(h1Heikin,1,3,'#0000ff','#ff0000','#0000ff','#ff0000',4),
   segments(boldResistance,1,{stroke:'#ff0000',lineWidth:8.5,lineCap:'round'},10),
   segments(boldSupport,1,{stroke:'#0000ff',lineWidth:8.5,lineCap:'round'},10),
   segments(midResistance,1,{stroke:'#ffb6c1',lineWidth:3.5},11),
   segments(midResistance,1,{stroke:'#ffb6c1',lineWidth:5,lineDash:[3,1]},11),
   segments(midSupport,1,{stroke:'#1e90ff',lineWidth:3.5},11),
   segments(midSupport,1,{stroke:'#1e90ff',lineWidth:5,lineDash:[3,1]},11),
   segments(minorResistance,1,{stroke:'#ffd3d9',lineWidth:2,lineDash:[2,2]},12),
   segments(minorSupport,1,{stroke:'#10d8f4',lineWidth:2,lineDash:[2,2]},12),
   priceTag(0,X0,100),priceTag(1,X1,100)
 ]};
const chart=echarts.init(document.getElementById('c'),null,{renderer:'canvas',width:1920,height:916});
chart.setOption(option);
</script></body></html>
